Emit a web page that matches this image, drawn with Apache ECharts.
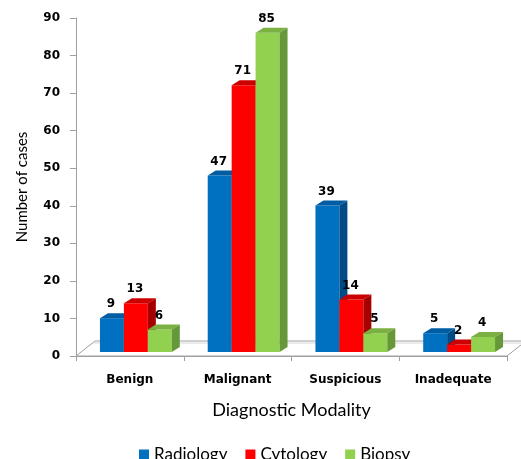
<!DOCTYPE html>
<html>
<head>
<meta charset="utf-8">
<script src="https://cdn.jsdelivr.net/npm/echarts@6/dist/echarts.min.js"></script>
<style>
  html, body { margin: 0; padding: 0; background: #fff; }
  #chart { width: 521px; height: 459px; }
</style>
</head>
<body>
<div id="chart"></div>
<script>
// Cases per diagnostic category, by modality
const categories = ['Benign', 'Malignant', 'Suspicious', 'Inadequate'];
const radiology = [9, 47, 39, 5];
const cytology = [13, 71, 14, 2];
const biopsy = [6, 85, 5, 4];
const seriesNames = ['Radiology', 'Cytology', 'Biopsy'];

// Face colours for the boxed bars: front, top, side
const palettes = [
  { front: '#0070C0', top: '#005CA3', side: '#004B85' },
  { front: '#FF0000', top: '#CC0000', side: '#A60000' },
  { front: '#92D050', top: '#7BB042', side: '#66983A' }
];

// Projection of the box: top/side depth, and how far the bars stand back from the floor's front edge
const DEPTH_X = 8, DEPTH_Y = 5;
const SHIFT_X = 6, LIFT = 4;
const FLOOR_DX = 19, FLOOR_DY = 15;

const LABEL_FONT = 'bold 12px "DejaVu Sans", sans-serif';

function boxRenderer(k) {
  const pal = palettes[k];
  return function (params, api) {
    const cat = api.value(0);
    const v = api.value(1);
    const base = api.coord([cat, 0]);
    const top = api.coord([cat, v]);
    const catW = api.size([1, 0])[0];
    const groupW = catW * 2 / 3;
    const bw = groupW / 3;
    const x0 = base[0] + SHIFT_X - groupW / 2 + k * bw;
    const x1 = x0 + bw;
    const y0 = base[1] - LIFT;
    const y1 = top[1] - LIFT;
    return {
      type: 'group',
      children: [
        { type: 'rect', shape: { x: x0, y: y1, width: bw, height: y0 - y1 }, style: { fill: pal.front } },
        { type: 'polygon', shape: { points: [[x0, y1], [x0 + DEPTH_X, y1 - DEPTH_Y], [x1 + DEPTH_X, y1 - DEPTH_Y], [x1, y1]] }, style: { fill: pal.top } },
        { type: 'polygon', shape: { points: [[x1, y1], [x1 + DEPTH_X, y1 - DEPTH_Y], [x1 + DEPTH_X, y0 - DEPTH_Y], [x1, y0]] }, style: { fill: pal.side } },
        { type: 'text', z2: 100, style: { text: String(v), x: x0 + bw / 2 - 1, y: y1 - 8, align: 'center', verticalAlign: 'bottom', font: LABEL_FONT, fill: '#000' } }
      ]
    };
  };
}

function floorRenderer(params) {
  const cs = params.coordSys;
  const xl = cs.x, xr = cs.x + cs.width, yf = cs.y + cs.height, yb = yf - FLOOR_DY;
  return {
    type: 'group',
    silent: true,
    children: [
      { type: 'polygon', shape: { points: [[xl, yf], [xl + FLOOR_DX, yb], [xr + FLOOR_DX, yb], [xr, yf]] }, style: { fill: '#ffffff', stroke: '#a0a0a0', lineWidth: 1 } },
      { type: 'line', shape: { x1: xl + FLOOR_DX - 2, y1: yb + 2, x2: xr + FLOOR_DX, y2: yb + 2 }, style: { stroke: '#d8d8d8', lineWidth: 1 } }
    ]
  };
}

const seriesData = [radiology, cytology, biopsy];

const chart = echarts.init(document.getElementById('chart'), null, { renderer: 'canvas' });
chart.setOption({
  animation: false,
  backgroundColor: '#ffffff',
  grid: { left: 76, right: 14, top: 18, bottom: 103 },
  legend: {
    data: seriesNames.map(function (n, i) { return { name: n, itemStyle: { color: palettes[i].front } }; }),
    left: 134,
    top: 441,
    icon: 'rect',
    itemWidth: 10,
    itemHeight: 10,
    itemGap: 18,
    textStyle: { fontFamily: 'Lato', fontSize: 17, color: '#000' }
  },
  xAxis: {
    type: 'category',
    data: categories,
    name: 'Diagnostic Modality',
    nameLocation: 'middle',
    nameGap: 45,
    nameTextStyle: { fontFamily: 'Lato', fontSize: 18, color: '#000' },
    axisLine: { show: true, lineStyle: { color: '#a0a0a0' } },
    axisTick: { show: true, length: 5, lineStyle: { color: '#a0a0a0' } },
    axisLabel: { margin: 18, fontFamily: 'DejaVu Sans', fontWeight: 'bold', fontSize: 12, color: '#000' }
  },
  yAxis: {
    type: 'value',
    min: 0,
    max: 90,
    interval: 10,
    name: 'Number of cases',
    nameLocation: 'middle',
    nameGap: 46,
    nameTextStyle: { fontFamily: 'Lato', fontSize: 15, color: '#000' },
    splitLine: { show: false },
    axisLine: { show: true, lineStyle: { color: '#a0a0a0' } },
    axisTick: { show: true, length: 6, lineStyle: { color: '#a0a0a0' } },
    axisLabel: { margin: 16, fontFamily: 'DejaVu Sans', fontWeight: 'bold', fontSize: 12, color: '#000' }
  },
  series: [
    {
      type: 'custom',
      name: 'floor',
      renderItem: floorRenderer,
      data: [[0, 0]],
      z: 1,
      silent: true,
      legendHoverLink: false
    }
  ].concat(seriesNames.map(function (name, k) {
    return {
      type: 'custom',
      name: name,
      itemStyle: { color: palettes[k].front },
      renderItem: boxRenderer(k),
      encode: { x: 0, y: 1 },
      data: seriesData[k].map(function (v, i) { return [i, v]; }),
      z: 2
    };
  }))
});
</script>
</body>
</html>
